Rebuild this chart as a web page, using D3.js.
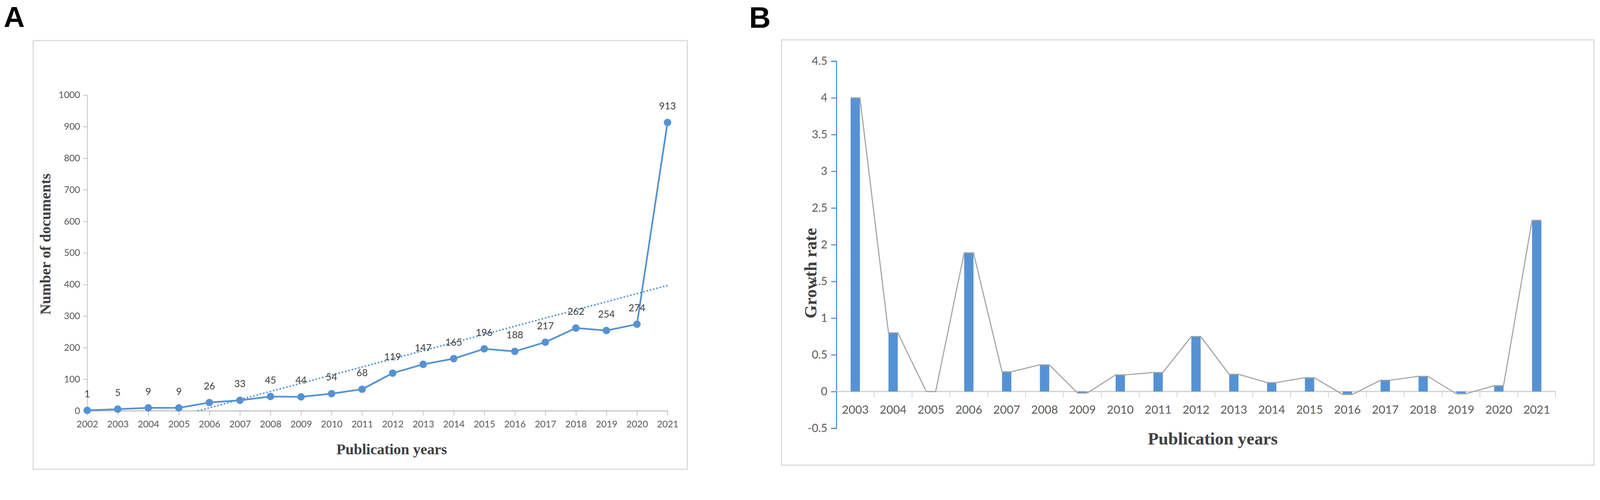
<!DOCTYPE html>
<html>
<head>
<meta charset="utf-8">
<script src="https://cdn.jsdelivr.net/npm/d3@7/dist/d3.min.js"></script>
<style>
  html, body { margin: 0; padding: 0; background: #fff; width: 100%; height: 100%; overflow: hidden; }
  svg { display: block; width: 100vw; height: 100vh; }
</style>
</head>
<body>
<svg id="fig" viewBox="0 0 4293 1280" preserveAspectRatio="xMinYMin meet"></svg>
<script>
// panel A: documents per year
var yearsA = [2002, 2003, 2004, 2005, 2006, 2007, 2008, 2009, 2010, 2011,
              2012, 2013, 2014, 2015, 2016, 2017, 2018, 2019, 2020, 2021];
var countsA = [1, 5, 9, 9, 26, 33, 45, 44, 54, 68,
               119, 147, 165, 196, 188, 217, 262, 254, 274, 913];
var ticksA = [0, 100, 200, 300, 400, 500, 600, 700, 800, 900, 1000];

// panel B: growth rate per year
var yearsB = [2003, 2004, 2005, 2006, 2007, 2008, 2009, 2010, 2011, 2012,
              2013, 2014, 2015, 2016, 2017, 2018, 2019, 2020, 2021];
var growthB = [4, 0.8, 0, 1.889, 0.269, 0.364, -0.022, 0.227, 0.259, 0.75,
               0.235, 0.122, 0.188, -0.041, 0.154, 0.207, -0.031, 0.079, 2.332];
var ticksB = [-0.5, 0, 0.5, 1, 1.5, 2, 2.5, 3, 3.5, 4, 4.5];

var blue = '#5592d4';
var axisGrey = '#bfbfbf';
var tickText = '#595959';
var sans = 'Lato, "Open Sans", sans-serif';
var serif = '"Liberation Serif", "Times New Roman", serif';

var svg = d3.select('#fig');

// ---------- panel A ----------
var gA = svg.append('g');

gA.append('rect')
    .attr('x', 89).attr('y', 109)
    .attr('width', 1755).attr('height', 1150)
    .style('fill', 'none')
    .style('stroke', '#d9d9d9')
    .style('stroke-width', 3);

gA.append('text')
    .attr('x', 10).attr('y', 72)
    .style('font-family', '"Liberation Sans", Arial, sans-serif')
    .style('font-weight', 'bold')
    .style('font-size', '78px')
    .text('A');

var xA = d3.scalePoint().domain(yearsA).range([234, 1791]).padding(0);
var yA = d3.scaleLinear().domain([0, 1000]).range([1102, 255]);

// y axis
var yAxisA = gA.append('g')
    .attr('transform', 'translate(234,0)')
    .call(d3.axisLeft(yA).tickValues(ticksA).tickSize(11).tickSizeOuter(0).tickPadding(8)
        .tickFormat(d3.format('d')));
yAxisA.select('.domain').style('stroke', axisGrey).style('stroke-width', 2);
yAxisA.selectAll('.tick line').style('stroke', axisGrey).style('stroke-width', 2);
yAxisA.selectAll('.tick text')
    .style('font-family', sans).style('font-size', '25px').style('fill', tickText);

// x axis
var xAxisA = gA.append('g')
    .attr('transform', 'translate(0,1102)')
    .call(d3.axisBottom(xA).tickSize(13).tickSizeOuter(0).tickPadding(14));
xAxisA.select('.domain').style('stroke', axisGrey).style('stroke-width', 3);
xAxisA.selectAll('.tick line').style('stroke', axisGrey).style('stroke-width', 2);
xAxisA.selectAll('.tick text')
    .style('font-family', sans).style('font-size', '25px').style('fill', tickText);

// linear trend (least squares on the counts)
var n = countsA.length;
var meanI = d3.mean(countsA, function(d, i){ return i; });
var meanV = d3.mean(countsA);
var sxy = d3.sum(countsA, function(d, i){ return (i - meanI) * (d - meanV); });
var sxx = d3.sum(countsA, function(d, i){ return (i - meanI) * (i - meanI); });
var slope = sxy / sxx;
var intercept = meanV - slope * meanI;
var xIdx = d3.scaleLinear().domain([0, n - 1]).range([234, 1791]);
var startI = Math.max(0, -intercept / slope);

gA.append('path')
    .datum([startI, n - 1])
    .attr('d', d3.line()
        .x(function(i){ return xIdx(i); })
        .y(function(i){ return yA(intercept + slope * i); }))
    .style('fill', 'none')
    .style('stroke', blue)
    .style('stroke-width', 4.5)
    .style('stroke-linecap', 'round')
    .style('stroke-dasharray', '0.1 9');

// main line
gA.append('path')
    .datum(countsA)
    .attr('d', d3.line()
        .x(function(d, i){ return xA(yearsA[i]); })
        .y(function(d){ return yA(d); }))
    .style('fill', 'none')
    .style('stroke', blue)
    .style('stroke-width', 4.5)
    .style('stroke-linejoin', 'round');

gA.selectAll('circle.pt')
    .data(countsA)
    .enter()
    .append('circle')
    .attr('class', 'pt')
    .attr('cx', function(d, i){ return xA(yearsA[i]); })
    .attr('cy', function(d){ return yA(d); })
    .attr('r', 10)
    .style('fill', blue);

gA.selectAll('text.lbl')
    .data(countsA)
    .enter()
    .append('text')
    .attr('class', 'lbl')
    .attr('x', function(d, i){ return xA(yearsA[i]); })
    .attr('y', function(d){ return yA(d) - 35; })
    .attr('text-anchor', 'middle')
    .style('font-family', sans)
    .style('font-size', '26px')
    .style('fill', '#404040')
    .text(function(d){ return d; });

// titles
gA.append('text')
    .attr('transform', 'translate(135,655) rotate(-90)')
    .attr('text-anchor', 'middle')
    .style('font-family', serif)
    .style('font-weight', 'bold')
    .style('font-size', '40px')
    .style('fill', '#404040')
    .text('Number of documents');

gA.append('text')
    .attr('x', 1051).attr('y', 1219)
    .attr('text-anchor', 'middle')
    .style('font-family', serif)
    .style('font-weight', 'bold')
    .style('font-size', '40px')
    .style('fill', '#404040')
    .text('Publication years');

// ---------- panel B ----------
var gB = svg.append('g');

gB.append('rect')
    .attr('x', 2097).attr('y', 107)
    .attr('width', 2180).attr('height', 1141)
    .style('fill', 'none')
    .style('stroke', '#d9d9d9')
    .style('stroke-width', 3);

gB.append('text')
    .attr('x', 2010).attr('y', 74)
    .style('font-family', '"Liberation Sans", Arial, sans-serif')
    .style('font-weight', 'bold')
    .style('font-size', '80px')
    .text('B');

var xB = d3.scaleBand().domain(yearsB).range([2244, 4174]).padding(0);
var yB = d3.scaleLinear().domain([-0.5, 4.5]).range([1149, 164]);
var barW = 25;

// y axis (blue)
var yAxisB = gB.append('g')
    .attr('transform', 'translate(2244,0)')
    .call(d3.axisLeft(yB).tickValues(ticksB).tickSize(14).tickSizeOuter(14).tickPadding(10)
        .tickFormat(function(d){ return String(d); }));
yAxisB.select('.domain').style('stroke', blue).style('stroke-width', 3);
yAxisB.selectAll('.tick line').style('stroke', blue).style('stroke-width', 3);
yAxisB.selectAll('.tick text')
    .style('font-family', sans).style('font-size', '30px').style('fill', tickText);

// x axis at zero, ticks between categories
var xAxisB = gB.append('g')
    .attr('transform', 'translate(0,' + yB(0) + ')');
xAxisB.append('line')
    .attr('x1', 2244).attr('x2', 4174)
    .style('stroke', '#d0d0d0').style('stroke-width', 3);
xAxisB.selectAll('line.sep')
    .data(yearsB)
    .enter()
    .append('line')
    .attr('class', 'sep')
    .attr('x1', function(d){ return xB(d) + xB.bandwidth(); })
    .attr('x2', function(d){ return xB(d) + xB.bandwidth(); })
    .attr('y1', 0).attr('y2', 16)
    .style('stroke', '#d0d0d0').style('stroke-width', 2);
xAxisB.selectAll('text')
    .data(yearsB)
    .enter()
    .append('text')
    .attr('x', function(d){ return xB(d) + xB.bandwidth() / 2; })
    .attr('y', 59)
    .attr('text-anchor', 'middle')
    .style('font-family', sans)
    .style('font-size', '31px')
    .style('fill', tickText)
    .text(function(d){ return d; });

// bars
gB.selectAll('rect.bar')
    .data(growthB)
    .enter()
    .append('rect')
    .attr('class', 'bar')
    .attr('x', function(d, i){ return xB(yearsB[i]) + xB.bandwidth() / 2 - barW / 2; })
    .attr('y', function(d){ return yB(Math.max(0, d)); })
    .attr('width', barW)
    .attr('height', function(d){ return Math.abs(yB(d) - yB(0)); })
    .style('fill', blue);

// grey line along bar tops
var topPts = [];
growthB.forEach(function(d, i){
    var cx = xB(yearsB[i]) + xB.bandwidth() / 2;
    topPts.push([cx - barW / 2, d]);
    topPts.push([cx + barW / 2, d]);
});
gB.append('path')
    .datum(topPts)
    .attr('d', d3.line()
        .x(function(p){ return p[0]; })
        .y(function(p){ return yB(p[1]); }))
    .style('fill', 'none')
    .style('stroke', '#a5a5a5')
    .style('stroke-width', 3)
    .style('stroke-linejoin', 'round');

// titles
gB.append('text')
    .attr('transform', 'translate(2190,733) rotate(-90)')
    .attr('text-anchor', 'middle')
    .style('font-family', serif)
    .style('font-weight', 'bold')
    .style('font-size', '46px')
    .style('fill', '#404040')
    .text('Growth rate');

gB.append('text')
    .attr('x', 3254).attr('y', 1193)
    .attr('text-anchor', 'middle')
    .style('font-family', serif)
    .style('font-weight', 'bold')
    .style('font-size', '47px')
    .style('fill', '#404040')
    .text('Publication years');
</script>
</body>
</html>
